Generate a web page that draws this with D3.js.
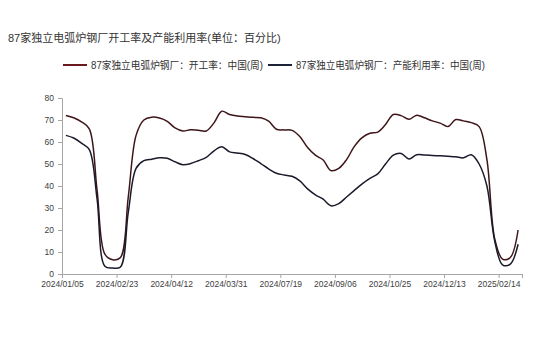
<!DOCTYPE html>
<html>
<head>
<meta charset="utf-8">
<script src="https://cdn.jsdelivr.net/npm/d3@7"></script>
<style>
    body { margin: 0; background: #fff; }
    svg { font-family: "Liberation Sans", "Noto Sans CJK SC", sans-serif; }
    .axis path, .axis line { stroke: #a6a6a6; }
    .axis text { fill: #404040; font-size: 8.5px; }
</style>
</head>
<body>
<div id="chart"></div>
<script>
// weekly series, 2024/01/05 .. 2025/02/28
let seriesNames = ["87家独立电弧炉钢厂：开工率：中国(周)", "87家独立电弧炉钢厂：产能利用率：中国(周)"];
let seriesColors = ["#3e1518", "#1a1b2a"];
let legendColors = ["#6a1a1e", "#1c2238"];

let operatingRate = [
    72, 71, 69.2, 66, 38, 9, 6.5, 7.5, 35, 63,
    70, 71.3, 70.9, 69.4, 66.4, 65, 65.6, 65.3, 65, 68.7,
    74, 72.5, 71.8, 71.5, 71.2, 71, 69.5, 65.8, 65.5, 65.3,
    62.5, 57.5, 54, 51.8, 47, 48, 52, 58, 62, 64,
    64.5, 68, 72.5, 72, 70.3, 72.2, 71, 69.6, 68.6, 67,
    70.2, 69.6, 68.8, 67, 52, 16, 6.8, 7.5, 20
];

let capacityUtil = [
    63, 61.8, 59.5, 56.5, 34, 3.5, 2.7, 3.2, 28, 48,
    51.5, 52.2, 52.8, 52.6, 51, 49.7, 50.2, 51.5, 53, 56,
    57.8, 55.5, 55, 54.3, 52.5, 50.2, 47.8, 45.8, 45, 44.4,
    42.3, 38.7, 36, 34, 31, 32, 35, 38, 41, 43.5,
    45.5, 50, 54, 54.8, 52.3, 54.2, 54.1, 53.9, 53.7, 53.5,
    53.3, 52.8, 54.2, 50, 40, 15, 4.2, 4.5, 13.5
];

let tickLabels = ["2024/01/05", "2024/02/23", "2024/04/12", "2024/03/31", "2024/07/19",
    "2024/09/06", "2024/10/25", "2024/12/13", "2025/02/14"];
let tickStep = 7;
let yTicks = [0, 10, 20, 30, 40, 50, 60, 70, 80];

let width = 550, height = 351;
let margin = {top: 98, right: 28, bottom: 77, left: 62};

let svg = d3.select("#chart").append("svg")
    .attr("width", width)
    .attr("height", height);

svg.append("text")
    .attr("x", 8)
    .attr("y", 38)
    .attr("dominant-baseline", "central")
    .style("font-size", "11px")
    .style("fill", "#333")
    .text("87家独立电弧炉钢厂开工率及产能利用率(单位：百分比)");

let n = operatingRate.length;
let x = d3.scaleBand()
    .domain(d3.range(n))
    .range([margin.left, width - margin.right])
    .padding(0);

let y = d3.scaleLinear()
    .domain([0, 80])
    .range([height - margin.bottom, margin.top]);

// y axis
svg.append("g")
    .attr("class", "axis")
    .attr("transform", `translate(${margin.left},0)`)
    .call(d3.axisLeft(y).tickValues(yTicks).tickSize(4).tickPadding(4));

// x axis: ticks on band edges, every 7 weeks
let xTickIdx = tickLabels.map((d, i) => i * tickStep);
let xEdge = d3.scaleLinear().domain([0, n]).range([margin.left, width - margin.right]);
svg.append("g")
    .attr("class", "axis")
    .attr("transform", `translate(0,${height - margin.bottom})`)
    .call(d3.axisBottom(xEdge)
        .tickValues(xTickIdx.concat([n]))
        .tickSize(4)
        .tickPadding(3)
        .tickFormat((d, i) => i < tickLabels.length ? tickLabels[i] : ""));

let line = d3.line()
    .x((d, i) => x(i) + x.bandwidth() / 2)
    .y(d => y(d))
    .curve(d3.curveCatmullRom.alpha(0.5));

[operatingRate, capacityUtil].forEach(function(vals, k) {
    svg.append("path")
        .datum(vals)
        .attr("fill", "none")
        .attr("stroke", seriesColors[k])
        .attr("stroke-width", 1.5)
        .attr("d", line);
});

// legend
let legendWidths = [172, 189];
let legend = svg.append("g").attr("transform", "translate(63,65)");
let lx = 0;
seriesNames.forEach(function(name, k) {
    legend.append("line")
        .attr("x1", lx).attr("x2", lx + 24)
        .attr("y1", 0).attr("y2", 0)
        .attr("stroke", legendColors[k])
        .attr("stroke-width", 2);
    legend.append("text")
        .attr("x", lx + 28)
        .attr("y", 0)
        .attr("dominant-baseline", "central")
        .attr("textLength", legendWidths[k])
        .attr("lengthAdjust", "spacingAndGlyphs")
        .style("font-size", "10px")
        .style("fill", "#333")
        .text(name);
    lx += 28 + legendWidths[k] + 5;
});
</script>
</body>
</html>
